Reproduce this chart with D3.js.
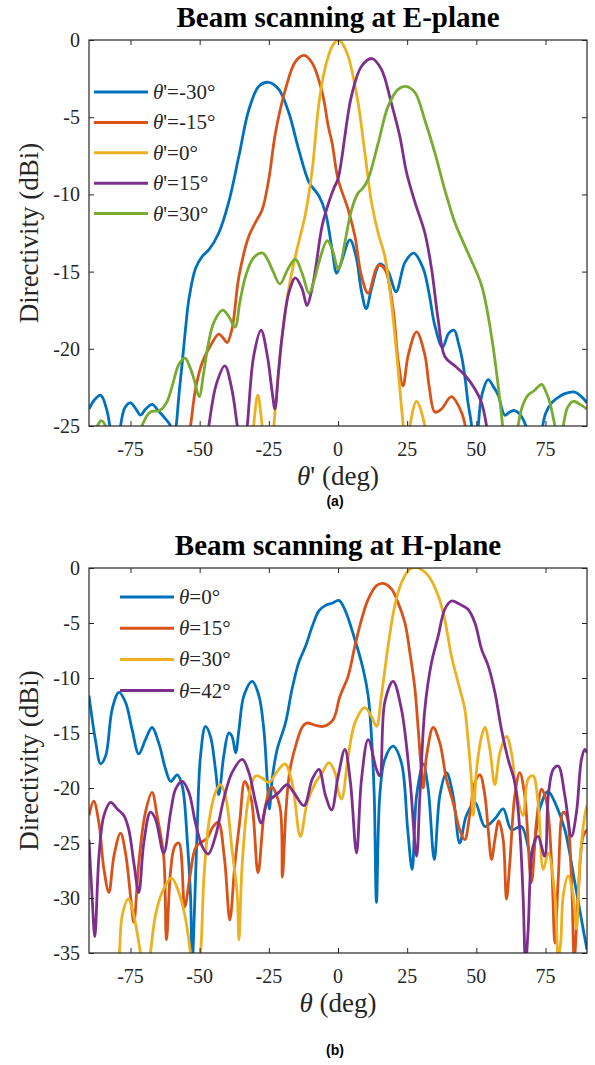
<!DOCTYPE html>
<html><head><meta charset="utf-8">
<script src="https://cdn.jsdelivr.net/npm/d3@7"></script>
<style>body{margin:0;background:#fff}</style>
</head><body>
<svg id="c" width="595" height="1065" xmlns="http://www.w3.org/2000/svg"></svg>
<script>
// ---------- data ----------
const xTicks = [-75, -50, -25, 0, 25, 50, 75];
const eYTicks = [0, -5, -10, -15, -20, -25];
const hYTicks = [0, -5, -10, -15, -20, -25, -30, -35];
const colors = ["#0072BD", "#D95319", "#EDB120", "#7E2F8E", "#77AC30"];
const eNames = ["-30", "-15", "0", "15", "30"];
const hNames = ["0", "15", "30", "42"];

const eM30 = [[-90,-23.9],[-88,-23.3],[-85.8,-23.0],[-83.5,-24.0],[-81.6,-26],[-80,-27],[-78.6,-25],[-77,-23.8],[-75,-23.5],[-73,-23.9],[-71.4,-24.3],[-69.5,-23.9],[-67.2,-23.6],[-65,-24.0],[-62.5,-24.5],[-60.5,-25.0],[-59.5,-26],[-58.5,-25],[-57.5,-23],[-56.3,-20.9],[-55,-18.5],[-53.9,-16.8],[-51.5,-14.8],[-49,-14],[-46.7,-13.6],[-43.1,-12.5],[-39.5,-10.5],[-35.8,-7.5],[-32.2,-4.5],[-28.6,-3.0],[-25,-2.74],[-21.4,-3.2],[-17.8,-4.7],[-14.2,-7.1],[-10.5,-9.2],[-6.9,-10.1],[-4.5,-11.2],[-2.1,-13.6],[-0.5,-15.1],[1,-14.5],[4.3,-12.95],[6.5,-14],[8.5,-16.3],[10.2,-17.4],[12.1,-16.1],[15.2,-14.5],[18.1,-15],[21,-16.3],[24.2,-14.4],[27.4,-13.8],[30.8,-14.8],[33,-16.5],[35,-18.5],[37.8,-19.9],[40,-19],[42,-18.8],[43.5,-19.6],[44.8,-20.6],[46,-22],[47,-23.5],[48.3,-25],[49.5,-28],[50.7,-25],[52,-23],[54.3,-22.0],[56,-22.4],[57.9,-23.0],[60.3,-24.3],[62,-24.1],[63.9,-24.0],[66,-24.3],[67.5,-24.8],[68.7,-25.5],[71,-27],[73.6,-25.3],[75,-24.2],[77.2,-23.5],[80,-23.1],[82,-22.9],[85.6,-22.8],[88,-23.1],[90,-23.5]];
const eM15 = [[-90,-32],[-70,-32],[-58,-30],[-55,-27],[-53.3,-25],[-51.5,-22.6],[-49.1,-20.9],[-46.1,-19.8],[-43.1,-19.05],[-41.5,-19.3],[-40.1,-19.6],[-38.3,-18.7],[-35.8,-15.3],[-32.2,-12.7],[-29.5,-11.7],[-27.4,-11.0],[-25,-9.0],[-22.6,-6.0],[-19,-3.2],[-15.4,-1.4],[-12.3,-1.0],[-9.3,-1.5],[-5.7,-3.4],[-3.5,-5.6],[-2.1,-6.7],[0,-9.0],[3.7,-11.0],[6.1,-12.7],[8.5,-15.3],[10.9,-16.4],[14.5,-14.6],[16.9,-14.85],[19.9,-17.4],[21.7,-20.7],[23.5,-22.4],[25.4,-20.4],[28.4,-18.9],[31.4,-20.4],[33,-22.5],[35,-24.1],[37.4,-23.9],[41,-23.1],[44.6,-24.1],[46,-25],[48,-28],[52,-32],[90,-32]];
const e0 = [[-90,-35],[-40,-35],[-32,-28],[-30.5,-25],[-29,-23],[-27.4,-25],[-25.5,-28],[-24,-27],[-23.2,-25],[-21.5,-21.5],[-20.2,-19.2],[-17.8,-16.1],[-15.4,-14.0],[-11.7,-11.2],[-9.3,-8.4],[-6.9,-4.1],[-4.5,-1.7],[-2.1,-0.4],[0,0],[1.5,-0.2],[3.7,-1.06],[5.5,-2.4],[7.3,-4.1],[9.7,-7.3],[12.1,-10.5],[14.5,-12.5],[16.9,-14.0],[19.3,-17.0],[21.7,-21.3],[23.6,-25],[25,-27],[26,-25],[28.4,-23.4],[31.4,-25],[33,-28],[40,-35],[90,-35]];
const e15 = [[-90,-35],[-55,-35],[-49,-28],[-46.7,-25],[-44,-22.3],[-40.9,-21.1],[-38.5,-22.5],[-36.4,-25],[-34.5,-27.5],[-32.8,-25],[-30.5,-20.5],[-27.8,-18.8],[-25.5,-20.5],[-23.8,-22.8],[-22.8,-23.9],[-21.5,-21.5],[-20.2,-19.2],[-17.8,-16.4],[-15.4,-15.4],[-13.0,-16.1],[-11.2,-17.2],[-9.5,-16.2],[-8.1,-14.8],[-5.7,-12.0],[-3.3,-10.5],[-1.5,-9.6],[0,-9.0],[1.5,-7.5],[2.5,-6.2],[4.9,-3.6],[8.5,-1.7],[12.3,-1.2],[15.7,-1.9],[19.3,-4.1],[22.3,-6.2],[24.8,-8.6],[27.8,-10.5],[31.4,-12.5],[33.8,-14.8],[36.2,-18.1],[38.6,-20.5],[42.2,-21.1],[45.8,-21.7],[49.5,-22.6],[51.9,-23.5],[53.7,-25],[56,-28],[62,-35],[90,-35]];
const e30 = [[-90,-27],[-88,-25.5],[-87,-25],[-85.5,-24.65],[-84,-25],[-83,-25.6],[-81,-27.5],[-77,-28.5],[-73,-26.5],[-70.9,-25],[-67.9,-24.1],[-64.5,-24.0],[-62,-23.5],[-59.9,-22.4],[-57.5,-21],[-55.3,-20.6],[-53.5,-21.2],[-52,-22],[-50.2,-23.1],[-48.5,-21.5],[-47,-19.8],[-44.9,-18.3],[-41.7,-17.5],[-39.5,-17.9],[-37.2,-18.6],[-35.5,-17],[-33.4,-15.3],[-30.5,-14.1],[-27.2,-13.8],[-25.5,-14.2],[-23.8,-14.85],[-21,-15.8],[-18,-14.8],[-15.4,-14.2],[-12.8,-15.2],[-10.5,-16.4],[-8.5,-15.5],[-6.9,-14.4],[-3.9,-13.0],[-2,-13.6],[0,-14.85],[0.8,-14.6],[2.5,-13.1],[4.9,-11.0],[7.3,-9.9],[9,-9.6],[10.9,-9.0],[14.5,-6.7],[18.1,-4.3],[21.7,-3.2],[24.4,-3.0],[27.8,-3.4],[31.4,-5.2],[35.0,-7.3],[38.6,-9.7],[42.2,-11.8],[47.0,-13.8],[51.9,-15.9],[55.5,-19.2],[57.9,-22.4],[59.5,-25],[61,-28],[63,-28],[65.1,-25],[66.5,-23.8],[68.7,-23.0],[71,-22.7],[73.6,-22.3],[75.2,-22.8],[76.6,-23.5],[78.4,-25],[80,-26.5],[81.4,-25],[83,-23.8],[85,-23.4],[87.5,-23.6],[90,-23.9]];

const h0 = [[-90,-11.6],[-87.7,-15.6],[-85.8,-17.8],[-84,-17.1],[-81.6,-12.8],[-79.2,-11.3],[-76.8,-12.2],[-74.4,-14.7],[-72,-16.9],[-69.6,-15.6],[-67.2,-14.5],[-64.8,-15.9],[-62.3,-18.3],[-60.5,-19.4],[-58.1,-18.8],[-56.3,-19.8],[-54.5,-24.7],[-53.3,-29.8],[-52.7,-36],[-52.1,-32.8],[-50.9,-23.8],[-49.7,-17.1],[-47.9,-14.4],[-46.1,-15.3],[-44.3,-18.3],[-43.1,-20.6],[-41.3,-17.1],[-39.5,-15.0],[-38.3,-15.3],[-37,-16.8],[-35.8,-14.7],[-34,-11.6],[-31,-10.3],[-28.6,-11.6],[-26.8,-14.7],[-25.6,-19.2],[-24.8,-21.9],[-23.8,-19.2],[-22,-16.5],[-19,-14.1],[-16.6,-11.0],[-14.2,-8.6],[-11.7,-7.1],[-9.3,-5.3],[-6.9,-3.9],[-4.5,-3.4],[-2.1,-3.2],[0.3,-2.95],[2.5,-3.8],[6.1,-6.5],[9.1,-9.2],[10.9,-11.6],[12.1,-15.3],[13.1,-20.7],[13.9,-30.4],[15.1,-20.7],[16.9,-17.4],[19.9,-16.2],[22.9,-17.7],[25.2,-23.8],[26.8,-27.4],[28.4,-20.7],[30.8,-17.8],[32.6,-20.1],[34.8,-26.5],[36.8,-20.7],[39.2,-18.6],[41.6,-20.7],[44,-25.0],[46.4,-22.5],[49.5,-21.3],[53.1,-23.5],[56.7,-22.8],[59.7,-21.9],[62.7,-23.8],[66.3,-23.5],[69.9,-26.2],[72.9,-21.9],[75.9,-20.3],[78.9,-21.6],[82,-23.8],[85.6,-28.6],[88.6,-32.8],[90,-34.7]];
const h15 = [[-90,-22.5],[-88.3,-21.2],[-86.4,-23.2],[-84.6,-27.4],[-82.8,-29.5],[-81,-26.2],[-78.6,-24.1],[-76.8,-25.9],[-75,-29.8],[-73.8,-32.2],[-72,-26.8],[-69.6,-22.2],[-67.2,-20.4],[-65.4,-22.5],[-63,-26.2],[-62,-33.8],[-60.5,-27.5],[-59,-25.3],[-57.5,-25],[-55.4,-30.8],[-53.5,-28],[-51.2,-25.3],[-47.5,-24.6],[-45.1,-23.5],[-43.3,-23.1],[-41,-26.5],[-39.1,-32.0],[-37.3,-27],[-35.5,-23],[-33.7,-19.4],[-31.3,-21.1],[-28.9,-27.7],[-26.5,-22],[-24.0,-19.9],[-21.0,-21.7],[-20.1,-28.1],[-18.8,-22],[-17.4,-18.4],[-15,-15.9],[-13,-14.5],[-11.4,-14.1],[-8,-14.3],[-5.4,-14.4],[-1.8,-13.8],[0.65,-11.7],[3.7,-9.8],[6.1,-7.1],[8.5,-4.7],[10.9,-2.85],[13.9,-1.6],[16.3,-1.4],[19.3,-1.9],[21.7,-3.15],[24.2,-5.0],[26,-7.7],[27.8,-11],[29,-14.7],[29.9,-17.7],[30.8,-20.0],[32,-17.1],[34.4,-14.5],[36.8,-15.9],[39.2,-19.2],[41.6,-21.3],[44,-23.8],[45.8,-24.7],[47.6,-22.5],[49.5,-19.5],[51.3,-18.8],[53.1,-20.7],[54.3,-23.8],[55.5,-26.5],[56.7,-24.7],[58.1,-23.0],[59.7,-24.7],[60.9,-30.1],[62.1,-26.8],[63.9,-20.7],[65.7,-18.6],[67.5,-20.7],[69.9,-28.6],[71.7,-23.2],[73.6,-20.1],[75.4,-21.3],[77.2,-26.8],[78.4,-34.1],[79.6,-28.3],[81.4,-22.2],[82.6,-22.5],[84.4,-28.3],[85.4,-35.5],[86.8,-29.8],[88.6,-24.4],[90,-23.8]];
const h30 = [[-90,-40],[-82,-40],[-79.2,-35.5],[-78,-31.6],[-75.8,-30.1],[-73.8,-31.6],[-71.4,-35],[-69.5,-38],[-67.8,-35],[-66,-31.6],[-63.6,-29.5],[-60.2,-28.2],[-57.5,-29.5],[-55.1,-31.9],[-53.3,-35],[-51.5,-38],[-49.7,-35],[-48.5,-28.3],[-46.7,-23.2],[-44.3,-20.4],[-42.5,-19.7],[-40.7,-20.7],[-38.3,-25.6],[-36.4,-29.8],[-35.8,-33.8],[-34.6,-26.8],[-32.2,-20.7],[-29.8,-18.9],[-27.4,-19.1],[-25,-19.5],[-22,-18.5],[-19.2,-17.8],[-16.6,-19.5],[-13.6,-24.4],[-11.1,-21.3],[-8.1,-19.5],[-5.7,-18.6],[-3.3,-17.7],[-1.1,-18.6],[0,-20.2],[1.3,-21.0],[3.7,-17.1],[6.1,-14.1],[9.7,-12.7],[12.1,-13.5],[13.9,-14.4],[15.7,-11.6],[18.1,-7.1],[20.5,-3.45],[23,-1.3],[26,-0.1],[29,0],[32.6,-0.7],[36.2,-2.5],[38.6,-4.7],[41,-8.0],[43.4,-10.4],[45.8,-12.8],[47,-15.6],[48.2,-19.2],[48.9,-22.5],[50.1,-18.3],[51.9,-15.3],[53.1,-14.5],[54.9,-16.5],[56.7,-19.7],[58.5,-16.8],[60.9,-15.3],[62.7,-16.8],[64.5,-20.4],[66.9,-22.5],[68.7,-19.2],[70.5,-18.9],[72.3,-21.3],[74.2,-27.4],[76,-25.9],[78.4,-29.8],[79.6,-35.5],[80.5,-34],[81.4,-29.8],[83.2,-28.0],[85,-29.8],[86.2,-32.8],[87.4,-26.8],[89.2,-22.5],[90,-21.6]];
const h42 = [[-90,-24.7],[-88.9,-29.8],[-87.9,-33.5],[-86.4,-26.2],[-84.6,-22.5],[-82.2,-21.3],[-79.8,-21.9],[-77.4,-22.5],[-75.6,-23.8],[-73.8,-26.8],[-72,-29.5],[-70.2,-25.0],[-67.8,-22.2],[-66,-22.8],[-63,-25.9],[-60.5,-22.2],[-58.7,-20.1],[-56.3,-19.4],[-53.9,-20.4],[-51.5,-23.2],[-49.1,-25.3],[-46.9,-26.0],[-44.3,-24.4],[-41.3,-21.0],[-38.3,-18.6],[-34.6,-17.4],[-32.2,-18.6],[-29.8,-21.3],[-27.7,-23.2],[-25.6,-21.3],[-23.8,-20.9],[-21.4,-20.4],[-18.4,-19.7],[-16,-20.4],[-12.3,-21.6],[-9.3,-19.2],[-6.9,-18.3],[-4.5,-20.7],[-2.3,-22.0],[0,-19],[2.5,-16.5],[4.5,-19.5],[6.7,-25.9],[8.5,-19.2],[10.9,-15.6],[13.9,-18.3],[15.1,-18.9],[16.9,-12.2],[19.9,-10.3],[22.9,-12.8],[26,-19.2],[28.4,-26.2],[29.6,-20.7],[31.4,-12.8],[33.8,-8.6],[36.2,-6.2],[38.6,-3.75],[41,-3.0],[44,-3.3],[47,-3.75],[49.5,-5.0],[51.9,-7.4],[54.3,-8.9],[56.7,-11.3],[59.1,-14.7],[61.5,-17.4],[63.9,-19.5],[65.7,-23.8],[66.9,-29.8],[67.8,-36],[68.7,-33],[70.5,-25.3],[72.3,-24.4],[74.7,-26.2],[76,-20.7],[77.8,-18.3],[79.6,-18.0],[82,-20.7],[84.4,-24.4],[86.2,-22.2],[88,-17.4],[89.2,-16.5],[90,-16.8]];

// ---------- drawing ----------
const svg = d3.select("#c");
const SERIF = "'Liberation Serif','Times New Roman',serif";
const INK = "#262626";
const L = 89, R = 587;

function panel(o) {
  const x = d3.scaleLinear().domain([-90, 90]).range([L, R]);
  const y = d3.scaleLinear().domain([o.ymin, 0]).range([o.bottom, o.top]);
  const g = svg.append("g");
  const cid = "clip" + o.id;
  svg.append("defs").append("clipPath").attr("id", cid)
    .append("rect").attr("x", L).attr("y", o.top).attr("width", R - L).attr("height", o.bottom - o.top);

  const line = d3.line().x(d => x(d[0])).y(d => y(d[1])).curve(d3.curveCatmullRom.alpha(0.5));
  const lg = g.append("g").attr("clip-path", `url(#${cid})`);
  o.series.forEach((s, i) => {
    lg.append("path").attr("d", line(s)).attr("fill", "none")
      .attr("stroke", colors[i]).attr("stroke-width", 2.8).attr("stroke-linejoin", "round");
  });

  // axes (ticks inward on all four sides)
  const mk = (ax) => ax.tickSizeOuter(0).tickSizeInner(-5).tickFormat("");
  g.append("g").attr("transform", `translate(0,${o.bottom})`).call(mk(d3.axisBottom(x).tickValues(xTicks)));
  g.append("g").attr("transform", `translate(0,${o.top})`).call(mk(d3.axisTop(x).tickValues(xTicks)));
  g.append("g").attr("transform", `translate(${L},0)`).call(mk(d3.axisLeft(y).tickValues(o.yTicks)));
  g.append("g").attr("transform", `translate(${R},0)`).call(mk(d3.axisRight(y).tickValues(o.yTicks)));
  g.selectAll(".domain").remove();
  g.selectAll(".tick line").attr("stroke", INK).attr("stroke-width", 1);
  g.append("rect").attr("x", L).attr("y", o.top).attr("width", R - L).attr("height", o.bottom - o.top)
    .attr("fill", "none").attr("stroke", INK).attr("stroke-width", 1.2);

  // tick labels
  g.selectAll(".xl").data(xTicks).enter().append("text")
    .attr("x", d => x(d)).attr("y", o.bottom + 30).attr("text-anchor", "middle")
    .attr("font-family", SERIF).attr("font-size", 20).attr("fill", INK).text(d => d);
  g.selectAll(".yl").data(o.yTicks).enter().append("text")
    .attr("x", 80).attr("y", d => y(d) + 7).attr("text-anchor", "end")
    .attr("font-family", SERIF).attr("font-size", 20).attr("fill", INK).text(d => d);

  // title
  g.append("text").attr("x", (L + R) / 2).attr("y", o.top - 13).attr("text-anchor", "middle")
    .attr("font-family", SERIF).attr("font-weight", "bold").attr("font-size", 29).attr("fill", "#000").text(o.title);

  // y label
  g.append("text").attr("transform", `translate(38,${(o.top + o.bottom) / 2}) rotate(-90)`)
    .attr("text-anchor", "middle").attr("font-family", SERIF).attr("font-size", 27).attr("fill", INK)
    .text("Directivity (dBi)");

  // x label
  const xl = g.append("text").attr("x", (L + R) / 2).attr("y", o.bottom + 59).attr("text-anchor", "middle")
    .attr("font-family", SERIF).attr("font-size", 27).attr("fill", INK);
  xl.append("tspan").attr("font-style", "italic").text("θ");
  xl.append("tspan").text(o.prime + " (deg)");

  // panel letter
  g.append("text").attr("x", 335).attr("y", o.letterY).attr("text-anchor", "middle")
    .attr("font-family", "'Liberation Sans',Arial,sans-serif").attr("font-weight", "bold")
    .attr("font-size", 14).attr("fill", "#000").text(o.letter);

  // legend
  o.names.forEach((n, i) => {
    const yy = o.legY + i * o.legDy;
    g.append("line").attr("x1", o.legX).attr("x2", o.legX + 54).attr("y1", yy).attr("y2", yy)
      .attr("stroke", colors[i]).attr("stroke-width", 3);
    const t = g.append("text").attr("x", o.legX + 59).attr("y", yy + 7)
      .attr("font-family", SERIF).attr("font-size", 21).attr("fill", INK);
    t.append("tspan").attr("font-style", "italic").text("θ");
    t.append("tspan").text(o.prime + "=" + n + "°");
  });
}

panel({ id: "a", top: 40, bottom: 426, ymin: -25, yTicks: eYTicks,
  series: [eM30, eM15, e0, e15, e30], names: eNames, prime: "'",
  title: "Beam scanning at E-plane", letter: "(a)", letterY: 506,
  legX: 94, legY: 92, legDy: 30.4 });

panel({ id: "b", top: 568, bottom: 953, ymin: -35, yTicks: hYTicks,
  series: [h0, h15, h30, h42], names: hNames, prime: "",
  title: "Beam scanning at H-plane", letter: "(b)", letterY: 1055,
  legX: 120, legY: 597, legDy: 31.2 });
</script>
</body></html>
